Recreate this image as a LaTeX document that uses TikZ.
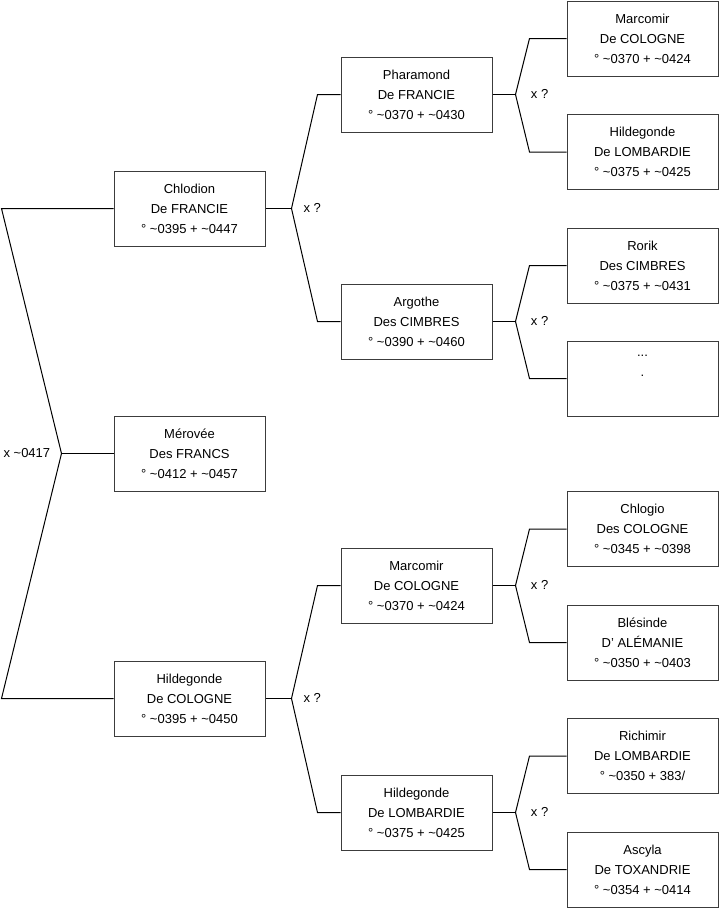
\documentclass[tikz,border=0pt]{standalone}
\usepackage{fontspec}
\setmainfont{Liberation Sans}
\definecolor{boxline}{RGB}{60,60,60}
\begin{document}
\begin{tikzpicture}[x=0.75pt,y=-0.75pt,
  person/.style={draw=boxline,line width=0.75pt,rectangle,minimum width=113.25pt,minimum height=56.25pt,
    inner sep=0pt,align=center,font=\fontsize{9.75}{15}\selectfont},
  link/.style={draw=black,line width=0.75pt},
  lbl/.style={anchor=west,inner sep=0pt,font=\fontsize{9.75}{12}\selectfont}]
\useasboundingbox (0,0) rectangle (719,908);
% level 1
\node[person] (chlodion) at (189.5,208.5) {Chlodion\\De FRANCIE\\° \textasciitilde0395 + \textasciitilde0447};
\node[person] (merovee) at (189.5,453.5) {Mérovée\\Des FRANCS\\° \textasciitilde0412 + \textasciitilde0457};
\node[person] (hildcol) at (189.5,698.5) {Hildegonde\\De COLOGNE\\° \textasciitilde0395 + \textasciitilde0450};
% level 2
\node[person] (pharamond) at (416.5,94.5) {Pharamond\\De FRANCIE\\° \textasciitilde0370 + \textasciitilde0430};
\node[person] (argothe) at (416.5,321.5) {Argothe\\Des CIMBRES\\° \textasciitilde0390 + \textasciitilde0460};
\node[person] (marcomirb) at (416.5,585.5) {Marcomir\\De COLOGNE\\° \textasciitilde0370 + \textasciitilde0424};
\node[person] (hildlomb) at (416.5,812.5) {Hildegonde\\De LOMBARDIE\\° \textasciitilde0375 + \textasciitilde0425};
% level 3
\node[person] (marcomira) at (642.5,38.5) {Marcomir\\De COLOGNE\\° \textasciitilde0370 + \textasciitilde0424};
\node[person] (hildloma) at (642.5,152) {Hildegonde\\De LOMBARDIE\\° \textasciitilde0375 + \textasciitilde0425};
\node[person] (rorik) at (642.5,265.5) {Rorik\\Des CIMBRES\\° \textasciitilde0375 + \textasciitilde0431};
\node[person] (dots) at (642.5,378.5) {...\\.\\\strut};
\node[person] (chlogio) at (642.5,529) {Chlogio\\Des COLOGNE\\° \textasciitilde0345 + \textasciitilde0398};
\node[person] (blesinde) at (642.5,642.5) {Blésinde\\D' ALÉMANIE\\° \textasciitilde0350 + \textasciitilde0403};
\node[person] (richimir) at (642.5,756) {Richimir\\De LOMBARDIE\\° \textasciitilde0350 + 383/};
\node[person] (ascyla) at (642.5,869.5) {Ascyla\\De TOXANDRIE\\° \textasciitilde0354 + \textasciitilde0414};
% fork for Merovee
\draw[link] (merovee.west) -- ++(-52,0) coordinate (jm);
\draw[link] (chlodion.west) -- ++(-112,0) -- (jm) -- ++(-60,245) -- (hildcol.west);
\node[lbl] (lm) at (3.3,453) {x \textasciitilde0417};
% fork for Chlodion
\draw[link] (chlodion.east) -- ++(26,0) coordinate (jc);
\draw[link] (pharamond.west) -- ++(-23,0) -- (jc);
\draw[link] (argothe.west) -- ++(-23,0) -- (jc);
\node[lbl] (lc) at (303.3,207.5) {x ?};
% fork for Hildegonde de Cologne
\draw[link] (hildcol.east) -- ++(26,0) coordinate (jh);
\draw[link] (marcomirb.west) -- ++(-23,0) -- (jh);
\draw[link] (hildlomb.west) -- ++(-23,0) -- (jh);
\node[lbl] (lh) at (303.3,697.5) {x ?};
% level 3 forks
\draw[link] (pharamond.east) -- ++(23,0) coordinate (jp);
\draw[link] (marcomira.west) -- ++(-37,0) -- (jp);
\draw[link] (hildloma.west) -- ++(-37,0) -- (jp);
\node[lbl] (lp) at (530.7,93.5) {x ?};
\draw[link] (argothe.east) -- ++(23,0) coordinate (ja);
\draw[link] (rorik.west) -- ++(-37,0) -- (ja);
\draw[link] (dots.west) -- ++(-37,0) -- (ja);
\node[lbl] (la) at (530.7,320.5) {x ?};
\draw[link] (marcomirb.east) -- ++(23,0) coordinate (jb);
\draw[link] (chlogio.west) -- ++(-37,0) -- (jb);
\draw[link] (blesinde.west) -- ++(-37,0) -- (jb);
\node[lbl] (lb) at (530.7,584.5) {x ?};
\draw[link] (hildlomb.east) -- ++(23,0) coordinate (jl);
\draw[link] (richimir.west) -- ++(-37,0) -- (jl);
\draw[link] (ascyla.west) -- ++(-37,0) -- (jl);
\node[lbl] (ll) at (530.7,811.5) {x ?};
\end{tikzpicture}
\end{document}
